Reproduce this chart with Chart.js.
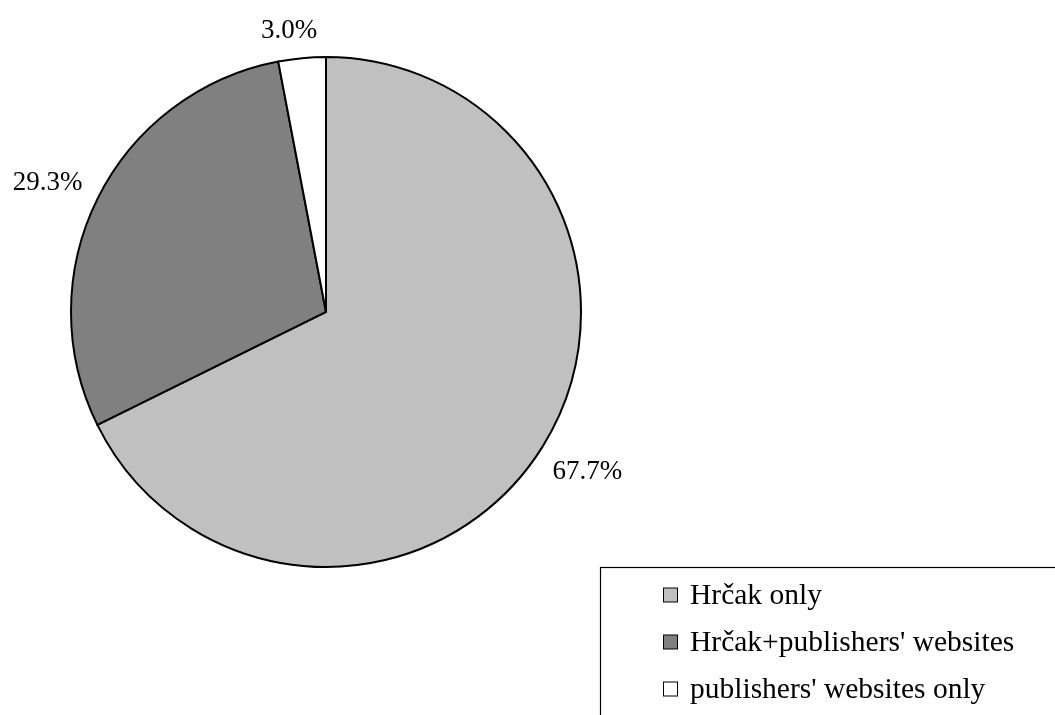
<!DOCTYPE html>
<html>
<head>
<meta charset="utf-8">
<script src="https://cdn.jsdelivr.net/npm/chart.js@4/dist/chart.umd.min.js"></script>
<style>
  html, body { margin: 0; padding: 0; background: #fff; }
  #wrap { width: 1055px; height: 715px; position: relative; }
</style>
</head>
<body>
<div id="wrap"><canvas id="pieChart"></canvas></div>
<script>
// Chart data
const categories = ['Hrčak only', "Hrčak+publishers' websites", "publishers' websites only"]
const shares = [67.7, 29.3, 3.0]
const sliceColors = ['#c0c0c0', '#808080', '#ffffff']

// Percent labels outside each slice
const outsideLabels = {
  id: 'outsideLabels',
  afterDatasetsDraw(chart) {
    const ctx = chart.ctx
    const meta = chart.getDatasetMeta(0)
    ctx.save()
    ctx.font = '27px "Liberation Serif", "Times New Roman", serif'
    ctx.fillStyle = '#000'
    ctx.textAlign = 'center'
    ctx.textBaseline = 'middle'
    meta.data.forEach((arc, i) => {
      const { x, y, startAngle, endAngle, outerRadius } = arc.getProps(
        ['x', 'y', 'startAngle', 'endAngle', 'outerRadius'], true)
      const mid = (startAngle + endAngle) / 2
      const dx = Math.cos(mid)
      const dy = Math.sin(mid)
      const text = shares[i].toFixed(1) + '%'
      const hw = ctx.measureText(text).width / 2
      const hh = 11
      const edge = Math.min(
        Math.abs(dx) > 0.001 ? hw / Math.abs(dx) : 1e9,
        Math.abs(dy) > 0.001 ? hh / Math.abs(dy) : 1e9
      )
      const d = outerRadius + 20 + edge
      // pushed a little sideways, away from the pie
      const lx = x + dx * d + Math.sign(dx) * 10
      ctx.fillText(text, lx, y + dy * d + 4)
    })
    ctx.restore()
  }
}

// Boxed legend in the lower right
const boxLegend = {
  id: 'boxLegend',
  afterDraw(chart) {
    const ctx = chart.ctx
    const colors = chart.data.datasets[0].backgroundColor
    ctx.save()
    ctx.strokeStyle = '#000'
    ctx.lineWidth = 1.2
    ctx.strokeRect(600.5, 567.5, 500, 200)
    ctx.font = '29.5px "Liberation Serif", "Times New Roman", serif'
    ctx.textBaseline = 'middle'
    ctx.textAlign = 'left'
    chart.data.labels.forEach((label, i) => {
      const cy = 595 + i * 47
      ctx.fillStyle = colors[i]
      ctx.fillRect(663.5, cy - 7, 14, 14)
      ctx.lineWidth = 1
      ctx.strokeRect(663.5, cy - 7, 14, 14)
      ctx.fillStyle = '#000'
      ctx.fillText(label, 690, cy + 1)
    })
    ctx.restore()
  }
}

const ctx = document.getElementById('pieChart').getContext('2d')
new Chart(ctx, {
  type: 'pie',
  data: {
    labels: categories,
    datasets: [
      {
        data: shares,
        backgroundColor: sliceColors,
        borderColor: '#000',
        borderWidth: 2,
        borderJoinStyle: 'miter',
        radius: 255
      }
    ]
  },
  options: {
    responsive: true,
    maintainAspectRatio: false,
    animation: false,
    layout: {
      padding: { left: 0, top: 0, right: 403, bottom: 91 }
    },
    plugins: {
      legend: { display: false },
      tooltip: { enabled: false }
    }
  },
  plugins: [outsideLabels, boxLegend]
})
</script>
</body>
</html>
